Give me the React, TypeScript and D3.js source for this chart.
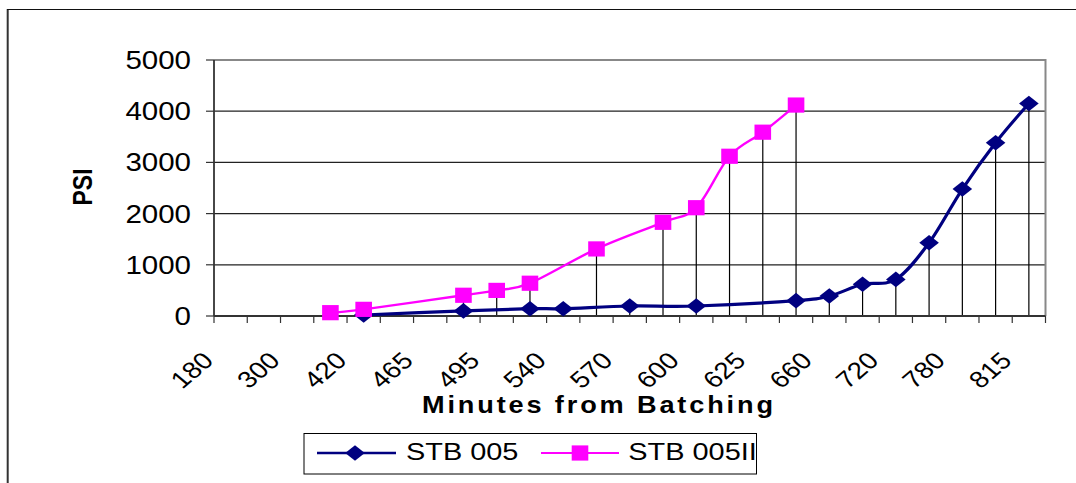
import React from "react";
import * as d3 from "d3";

// Category slots along the x axis; every second slot carries a label.
const tickLabels = ["180", "300", "420", "465", "495", "540", "570", "600", "625", "660", "720", "780", "815"];
const slotCount = 25;

// PSI readings per slot (null where a test was not taken).
const stb005: (number | null)[] = [
  null, null, null, null, 20, null, null, 100, null, 143, 143, null, 195,
  null, 195, null, null, 300, 390, 620, 715, 1430, 2480, 3385, 4150,
];
const stb005II: (number | null)[] = [
  null, null, null, 65, 130, null, null, 405, 500, 640, null, 1310, null,
  1830, 2115, 3120, 3590, 4120, null, null, null, null, null, null, null,
];
const yTicks = [0, 1000, 2000, 3000, 4000, 5000];

const seriesNames = ["STB 005", "STB 005II"];
const NAVY = "#000080";
const MAGENTA = "#FF00FF";
const FONT = "'Liberation Sans', Arial, sans-serif";
const SX = 1.18; // horizontal text stretch

const W = 1076;
const H = 483;
const plot = { left: 214, right: 1045.5, top: 60, bottom: 316 };

const slots = d3.range(slotCount);
const x = d3.scaleBand<number>().domain(slots).range([plot.left, plot.right]).padding(0);
const bw = x.bandwidth();
const cx = (i: number) => (x(i) as number) + bw / 2;
const y = d3.scaleLinear().domain([0, 5000]).range([plot.bottom, plot.top]);

type Pt = { i: number; v: number };
const pts = (arr: (number | null)[]): Pt[] =>
  arr.map((v, i) => ({ i, v })).filter((d) => d.v !== null) as Pt[];

const line = d3
  .line<Pt>()
  .x((d) => cx(d.i))
  .y((d) => y(d.v))
  .curve(d3.curveCardinal.tension(0));

const diamond = "M0,-7.8L9.8,0L0,7.8L-9.8,0Z";

function Square({ px, py }: { px: number; py: number }) {
  return <rect x={px - 8.3} y={py - 7.6} width={16.6} height={15.2} fill={MAGENTA} />;
}
function Diamond({ px, py }: { px: number; py: number }) {
  return <path d={diamond} transform={`translate(${px},${py})`} fill={NAVY} />;
}

export default function App() {
  const p1 = pts(stb005);
  const p2 = pts(stb005II);
  const dropSlots = slots.filter((i) => stb005[i] !== null || stb005II[i] !== null);
  const edges = d3.range(slotCount + 1).map((k) => plot.left + k * bw);

  return (
    <svg
      width={W}
      height={H}
      style={{ position: "absolute", left: 0, top: 0, background: "#fff" }}
      fontFamily={FONT}
    >
      {/* chart frame */}
      <line x1={7.7} y1={9} x2={7.7} y2={H + 5} stroke="#333" strokeWidth={2} />
      <line x1={7} y1={9.5} x2={W + 5} y2={9.5} stroke="#111" strokeWidth={1.2} />

      {/* gridlines */}
      {yTicks.slice(1, -1).map((t) => (
        <line key={t} x1={plot.left} x2={plot.right} y1={y(t)} y2={y(t)} stroke="#222" strokeWidth={1.2} />
      ))}
      {/* plot-area border */}
      <path
        d={`M${plot.left},${plot.top}H${plot.right}V${plot.bottom}`}
        fill="none"
        stroke="#888"
        strokeWidth={2}
      />

      {/* drop lines */}
      {dropSlots.map((i) => {
        const m = Math.max(stb005[i] ?? 0, stb005II[i] ?? 0);
        return <line key={i} x1={cx(i)} x2={cx(i)} y1={y(m)} y2={plot.bottom} stroke="#000" strokeWidth={1.2} />;
      })}

      {/* axes */}
      <line x1={plot.left} x2={plot.left} y1={plot.top} y2={plot.bottom} stroke="#333" strokeWidth={1.8} />
      <line x1={plot.left} x2={plot.right} y1={plot.bottom} y2={plot.bottom} stroke="#333" strokeWidth={1.8} />
      {yTicks.map((t) => (
        <g key={t}>
          <line x1={plot.left - 8} x2={plot.left} y1={y(t)} y2={y(t)} stroke="#333" strokeWidth={1.2} />
          <text transform={`translate(191,${y(t) + 9}) scale(${SX},1)`} textAnchor="end" fontSize={25} fill="#000">
            {t}
          </text>
        </g>
      ))}
      {edges.map((ex, k) => (
        <line key={k} x1={ex} x2={ex} y1={plot.bottom} y2={plot.bottom + 7} stroke="#333" strokeWidth={1.2} />
      ))}
      {tickLabels.map((lab, k) => (
        <text
          key={lab}
          transform={`translate(${(x(k * 2) as number) + 1},362) scale(${SX},1) rotate(-45)`}
          textAnchor="end"
          fontSize={23.5}
          fill="#000"
        >
          {lab}
        </text>
      ))}

      {/* axis titles */}
      <text
        transform={`translate(597.5,413) scale(${SX},1)`}
        textAnchor="middle"
        fontSize={23}
        fontWeight="bold"
        textLength={297.5}
        lengthAdjust="spacing"
      >
        Minutes from Batching
      </text>
      <text
        transform={`translate(91.5,187) scale(${SX},1) rotate(-90)`}
        textAnchor="middle"
        fontSize={23}
        fontWeight="bold"
      >
        PSI
      </text>

      {/* series */}
      <path d={line(p1) || ""} fill="none" stroke={NAVY} strokeWidth={3.2} />
      {p1.map((d) => (
        <Diamond key={d.i} px={cx(d.i)} py={y(d.v)} />
      ))}
      <path d={line(p2) || ""} fill="none" stroke={MAGENTA} strokeWidth={2.4} />
      {p2.map((d) => (
        <Square key={d.i} px={cx(d.i)} py={y(d.v)} />
      ))}

      {/* legend */}
      <rect x={304} y={433.5} width={452.5} height={40.5} fill="#fff" stroke="#000" strokeWidth={1} />
      <line x1={317} x2={396} y1={453} y2={453} stroke={NAVY} strokeWidth={2.5} />
      <Diamond px={355} py={453} />
      <text transform={`translate(406,459.5) scale(${SX},1)`} fontSize={24.5}>
        {seriesNames[0]}
      </text>
      <line x1={541} x2={619} y1={453} y2={453} stroke={MAGENTA} strokeWidth={2} />
      <Square px={580} py={453} />
      <text transform={`translate(628.3,459.5) scale(${SX},1)`} fontSize={24.5}>
        {seriesNames[1]}
      </text>
    </svg>
  );
}
